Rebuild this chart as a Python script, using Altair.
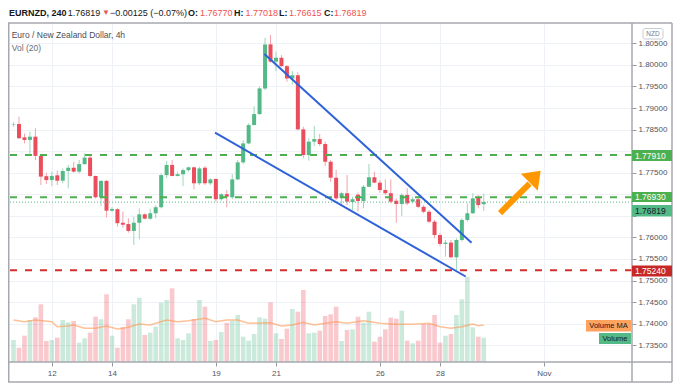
import altair as alt
import pandas as pd

# ---------------- data ----------------
opens = [1.78620, 1.78630, 1.78320, 1.78260, 1.78335, 1.77890, 1.77420, 1.77330, 1.77440, 1.77315,
         1.77540, 1.77615, 1.77525, 1.77700, 1.77850, 1.77425, 1.76930, 1.77310, 1.76620, 1.76655,
         1.76340, 1.76310, 1.76150, 1.76340, 1.76535, 1.76435, 1.76560, 1.76700, 1.77445, 1.77680,
         1.77425, 1.77465, 1.77560, 1.77625, 1.77255, 1.77615, 1.77255, 1.77355, 1.76885, 1.77000,
         1.76930, 1.77345, 1.77740, 1.78180, 1.78605, 1.78860, 1.79455, 1.80475, 1.80075, 1.80165,
         1.79970, 1.79685, 1.79760, 1.78505, 1.77910, 1.78220, 1.78280, 1.78165, 1.77755, 1.77385,
         1.76920, 1.77025, 1.76820, 1.76990, 1.76845, 1.77175, 1.77395, 1.77270, 1.77100, 1.77025,
         1.76850, 1.76775, 1.76985, 1.76830, 1.76885, 1.76710, 1.76595, 1.76365, 1.76055, 1.75850,
         1.75880, 1.75540, 1.75940, 1.76405, 1.76560, 1.76930, 1.76770]
highs = [1.78670, 1.78800, 1.78410, 1.78450, 1.78530, 1.77895, 1.77500, 1.77525, 1.77550, 1.77600,
         1.77680, 1.77755, 1.77795, 1.77950, 1.77910, 1.77430, 1.77330, 1.77330, 1.76700, 1.76675,
         1.76600, 1.76445, 1.76480, 1.76675, 1.76560, 1.76665, 1.76745, 1.77485, 1.77770, 1.77795,
         1.77525, 1.77600, 1.77640, 1.77640, 1.77640, 1.77655, 1.77370, 1.77370, 1.77025, 1.77100,
         1.77470, 1.77795, 1.78250, 1.78645, 1.79045, 1.79495, 1.80630, 1.80690, 1.80305, 1.80225,
         1.79995, 1.79855, 1.79825, 1.78565, 1.78300, 1.78585, 1.78400, 1.78220, 1.77795, 1.77565,
         1.77060, 1.77450, 1.76945, 1.77040, 1.77215, 1.77700, 1.77525, 1.77330, 1.77345, 1.77345,
         1.76905, 1.77025, 1.77140, 1.76945, 1.76930, 1.76750, 1.76635, 1.76405, 1.76100, 1.75940,
         1.75940, 1.75980, 1.76445, 1.76790, 1.77025, 1.76985, 1.77018]
lows = [1.78560, 1.78280, 1.78180, 1.77930, 1.77795, 1.77215, 1.77240, 1.77190, 1.77215, 1.77255,
        1.77140, 1.77500, 1.77485, 1.77680, 1.77395, 1.76905, 1.76730, 1.76465, 1.76590, 1.76250,
        1.76225, 1.76110, 1.75825, 1.75955, 1.76420, 1.76405, 1.76445, 1.76675, 1.77370, 1.77415,
        1.77410, 1.77190, 1.77525, 1.77115, 1.77215, 1.77215, 1.77215, 1.76830, 1.76850, 1.76700,
        1.76885, 1.77330, 1.77700, 1.78160, 1.78600, 1.78840, 1.79415, 1.80055, 1.79855, 1.79955,
        1.79610, 1.79545, 1.78475, 1.77835, 1.77780, 1.78120, 1.78120, 1.77655, 1.77290, 1.76870,
        1.76750, 1.76750, 1.76635, 1.76600, 1.76675, 1.77170, 1.77255, 1.77035, 1.76985, 1.76790,
        1.76340, 1.76495, 1.76750, 1.76790, 1.76675, 1.76560, 1.76330, 1.75980, 1.75800, 1.75555,
        1.75515, 1.75245, 1.75900, 1.76365, 1.76545, 1.76675, 1.76615]
closes = [1.78630, 1.78300, 1.78260, 1.78335, 1.77890, 1.77410, 1.77330, 1.77425, 1.77315, 1.77540,
          1.77615, 1.77525, 1.77700, 1.77850, 1.77425, 1.76930, 1.77310, 1.76620, 1.76660, 1.76330,
          1.76295, 1.76150, 1.76340, 1.76535, 1.76435, 1.76560, 1.76700, 1.77445, 1.77680, 1.77425,
          1.77465, 1.77560, 1.77625, 1.77255, 1.77600, 1.77255, 1.77345, 1.76885, 1.77000, 1.76945,
          1.77345, 1.77740, 1.78180, 1.78605, 1.78860, 1.79455, 1.80475, 1.80075, 1.80165, 1.79970,
          1.79685, 1.79760, 1.78505, 1.77910, 1.78220, 1.78280, 1.78165, 1.77755, 1.77385, 1.76905,
          1.77025, 1.76830, 1.76885, 1.76845, 1.77175, 1.77395, 1.77270, 1.77100, 1.77025, 1.76830,
          1.76775, 1.76985, 1.76790, 1.76885, 1.76710, 1.76595, 1.76365, 1.76055, 1.75850, 1.75880,
          1.75540, 1.75940, 1.76405, 1.76560, 1.76905, 1.76750, 1.76819]
volumes = [2200, 1430, 2630, 4200, 4470, 5770, 2100, 2200, 2430, 4200,
           3970, 4100, 1930, 2370, 2930, 4530, 4270, 6770, 2630, 1430,
           3470, 4270, 5770, 6430, 2700, 2930, 3530, 5930, 6200, 7370,
           2370, 2200, 2870, 4300, 6200, 5530, 2100, 2200, 3000, 3930,
           4130, 4700, 2530, 2130, 2800, 4470, 4330, 5970, 2870, 2300,
           3330, 5300, 5030, 7200, 2870, 2930, 3130, 4600, 4770, 5530,
           2100, 3200, 3270, 4530, 3930, 5030, 2030, 2530, 3270, 4430,
           4330, 5130, 2130, 1870, 2130, 3800, 3800, 4700, 1930, 2630,
           2800, 4700, 6270, 8530, 3470, 2530, 2430]
ma_index = [0, 2, 4, 7, 8, 10, 11, 13, 15, 17, 19, 21, 23, 25, 26, 28, 30, 32, 35, 37, 39,
            41, 43, 47, 49, 51, 53, 55, 57, 59, 61, 64, 67, 70, 73, 76, 78, 80, 82, 84, 85, 86]
ma_values = [4200, 4030, 4200, 4030, 3530, 3600, 3700, 3370, 3370, 3600, 3300, 3470, 3800, 3700,
             3870, 4200, 4030, 4130, 4370, 4030, 4200, 4200, 3870, 3930, 3600, 3700, 3970, 3700,
             3870, 4030, 3870, 4130, 3870, 3770, 3770, 3870, 3530, 3370, 3530, 3800, 3630, 3700]

tick_index = [7, 18, 37, 48, 67, 78, 97]
tick_labels = ["12", "14", "19", "21", "26", "28", "Nov"]
price_ticks = [round(1.735 + 0.005 * k, 3) for k in range(15)]
covered_ticks = [1.78, 1.77, 1.765]   # hidden behind the level badges in the reference

level_prices = [1.7791, 1.7693, 1.7524]
level_kind = ["green", "green", "red"]
last_price = 1.76819

upper_x = [45.88, 83.77]
upper_p = [1.80252, 1.75878]
lower_x = [36.85, 82.69]
lower_p = [1.78428, 1.75094]
arrow_x = [88.98, 94.38]
arrow_p = [1.76566, 1.77250]
arrow_head_x = [95.37]
arrow_head_p = [1.77412]

# ---------------- styling ----------------
FONT = "Liberation Sans"
TXT = "#50535e"
DARK = "#131722"
GRID = "#eef1f6"
UP, DOWN = "#53b987", "#eb4d5c"
WICK_UP, WICK_DOWN = "#9fd6b9", "#f3a3aa"
FRAME = "#a6a9b0"

dirs = ["up" if c >= o else "down" for o, c in zip(opens, closes)]
candles = pd.DataFrame({"i": list(range(len(opens))), "open": opens, "high": highs,
                        "low": lows, "close": closes, "volume": volumes, "dir": dirs})
ma_df = pd.DataFrame({"i": ma_index, "ma": ma_values})
levels_df = pd.DataFrame({"price": level_prices, "kind": level_kind})
trend_df = pd.DataFrame({"i": upper_x + lower_x, "price": upper_p + lower_p,
                         "line": ["upper"] * 2 + ["lower"] * 2})
arrow_df = pd.DataFrame({"i": arrow_x, "price": arrow_p})
head_df = pd.DataFrame({"i": arrow_head_x, "price": arrow_head_p})
one = pd.DataFrame({"k": [0]})

X = alt.Scale(domain=[-0.1, 112.2], nice=False, zero=False)
Y = alt.Scale(domain=[1.73112, 1.80971], nice=False, zero=False)
V = alt.Scale(domain=[0, 33900], nice=False, zero=False)

label_expr = " : ".join(f"datum.value == {v} ? '{t}'" for v, t in zip(tick_index, tick_labels)) + " : ''"
hide_expr = " || ".join(f"abs(datum.value - {v}) < 0.0001" for v in covered_ticks)
y_label_expr = f"({hide_expr}) ? '' : format(datum.value, '.5f')"

x_axis = alt.Axis(values=tick_index, labelExpr=label_expr, grid=True, gridColor=GRID,
                  domain=False, ticks=True, tickSize=4, tickColor="#9598a1", labelFont=FONT,
                  labelFontSize=8, labelColor=TXT, labelPadding=3, title=None,
                  labelFlush=False, labelOverlap=False, orient="bottom", labels=True)
y_axis = alt.Axis(orient="right", values=price_ticks, labelExpr=y_label_expr, grid=True, gridColor=GRID,
                  domain=False, tickSize=4, tickColor="#9598a1", labelFont=FONT,
                  labelFontSize=8, labelColor=TXT, labelPadding=2, title=None,
                  labelFlush=False, labelOverlap=False)

xq = alt.X("i:Q", scale=X, axis=x_axis)

vol = alt.Chart(candles).mark_bar(size=4.6, opacity=0.3, clip=True).encode(
    x=xq, y=alt.Y("volume:Q", scale=V, axis=None),
    color=alt.Color("dir:N", scale=alt.Scale(domain=["up", "down"], range=[UP, DOWN]), legend=None))

ma = alt.Chart(ma_df).mark_line(color="#ff9850", opacity=0.6, strokeWidth=1.5, clip=True).encode(
    x=xq, y=alt.Y("ma:Q", scale=V, axis=None))

levels = alt.Chart(levels_df).mark_rule(strokeWidth=2, strokeDash=[7, 8]).encode(
    y=alt.Y("price:Q", scale=Y, axis=None),
    color=alt.Color("kind:N", scale=alt.Scale(domain=["green", "red"], range=["#4caf50", "#d32f2f"]), legend=None))

lastline = alt.Chart(pd.DataFrame({"price": [last_price]})).mark_rule(
    color=UP, strokeDash=[1, 2], strokeWidth=1).encode(y=alt.Y("price:Q", scale=Y, axis=None))

wick = alt.Chart(candles).mark_rule(strokeWidth=1, clip=True).encode(
    x=xq,
    y=alt.Y("low:Q", scale=Y, axis=y_axis), y2="high:Q",
    color=alt.Color("dir:N", scale=alt.Scale(domain=["up", "down"], range=[WICK_UP, WICK_DOWN]), legend=None))

body = alt.Chart(candles).mark_bar(size=4, clip=True).encode(
    x=xq, y=alt.Y("open:Q", scale=Y, axis=None), y2="close:Q",
    color=alt.Color("dir:N", scale=alt.Scale(domain=["up", "down"], range=[UP, DOWN]), legend=None))

trend = alt.Chart(trend_df).mark_line(color="#2f62d8", strokeWidth=2, clip=True).encode(
    x=xq, y=alt.Y("price:Q", scale=Y, axis=None), detail="line:N")

shaft = alt.Chart(arrow_df).mark_line(color="#ff9800", strokeWidth=6, strokeCap="butt").encode(
    x=xq, y=alt.Y("price:Q", scale=Y, axis=None))
head = alt.Chart(head_df).mark_point(shape="M0,-0.67L1,0.67L-1,0.67Z", filled=True, size=576,
                                     angle=45, color="#ff9800", opacity=1).encode(
    x=xq, y=alt.Y("price:Q", scale=Y, axis=None))


def rule(x1, y1, x2, y2, color=FRAME, w=1.5):
    return alt.Chart(one).mark_rule(color=color, strokeWidth=w).encode(
        x=alt.value(x1), y=alt.value(y1), x2=alt.value(x2), y2=alt.value(y2))


def box(x1, y1, x2, y2, fill, stroke=None, r=0):
    kw = dict(fill=fill, cornerRadius=r)
    if stroke:
        kw.update(stroke=stroke, strokeWidth=1)
    return alt.Chart(one).mark_rect(**kw).encode(
        x=alt.value(x1), y=alt.value(y1), x2=alt.value(x2), y2=alt.value(y2))


def txt(x, y, s, color=DARK, size=9, weight="normal", align="left"):
    return alt.Chart(one).mark_text(text=s, font=FONT, fontSize=size, fontWeight=weight,
                                    color=color, align=align, baseline="middle").encode(
        x=alt.value(x), y=alt.value(y))


frame = [
    rule(0.75, 0, 0.75, 359), rule(0, 0, 664, 0), rule(624, 0, 624, 359),
    rule(664, 0, 664, 359), rule(0, 339, 664, 339), rule(0, 359, 664, 359),
]

RED_T = "#ef5350"
header = [
    txt(1, -9.7, "EURNZD, 240", weight="bold"),
    txt(59.7, -9.7, "1.76819"),
    txt(94, -9.7, "▼", color=RED_T, size=8),
    txt(102, -9.7, "−0.00125 (−0.07%)"),
    txt(180, -9.7, "O:", weight="bold"), txt(192, -9.7, "1.76770", color=RED_T),
    txt(226, -9.7, "H:", weight="bold"), txt(237.5, -9.7, "1.77018", color=RED_T),
    txt(271, -9.7, "L:", weight="bold"), txt(281, -9.7, "1.76615", color=RED_T),
    txt(316, -9.7, "C:", weight="bold"), txt(326, -9.7, "1.76819", color=RED_T),
    txt(3.7, 12, "Euro / New Zealand Dollar, 4h", color="#4a4e59", size=8.5),
    txt(3.7, 25.3, "Vol (20)", color="#6a6d78", size=8.5),
]

labels = [
    box(635, 5.5, 655, 16, "white", stroke="#c8cbd2", r=2),
    txt(645, 10.8, "NZD", color="#787b86", size=6.5, align="center"),
    box(624, 127, 664, 138, "#4caf50"), txt(627, 132.5, "1.77910", color="white", size=8.5),
    box(624, 169, 664, 179, "#4caf50"), txt(627, 174, "1.76930", color="white", size=8.5),
    box(624, 182, 664, 193.5, "#53b987"), txt(627, 187.8, "1.76819", color=DARK, size=8.5),
    box(624, 242.5, 664, 253.5, "#c62828"), txt(627, 248, "1.75240", color="white", size=8.5),
    box(578, 297, 623, 308.5, "#ffa25e"), txt(600.5, 302.8, "Volume MA", color=DARK, size=7.5, align="center"),
    box(591, 310, 623, 321, "#53b987"), txt(607, 315.5, "Volume", color=DARK, size=7.5, align="center"),
]

chart = alt.layer(
    vol, ma, wick, body, levels, lastline, trend, shaft, head, *frame, *header, *labels
).resolve_scale(y="independent", color="independent").properties(
    width=624, height=339,
    padding={"left": 0, "top": 15, "right": 41, "bottom": 22},
    autosize=alt.AutoSizeParams(type="none"),
).configure_view(stroke=None)

chart.save("out.html", embed_options={"renderer": "svg", "actions": False})
